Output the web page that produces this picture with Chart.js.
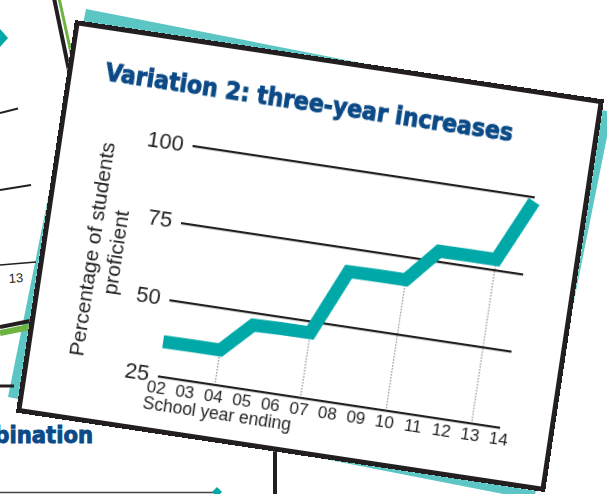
<!DOCTYPE html>
<html>
<head>
<meta charset="utf-8">
<script src="https://cdn.jsdelivr.net/npm/chart.js@4.4.1/dist/chart.umd.min.js"></script>
<style>
  html, body { margin: 0; padding: 0; background: #fff; }
  #stage { position: relative; width: 607px; height: 494px; overflow: hidden; background: #fff; }
  #deco { position: absolute; left: 0; top: 0; }
  #card {
    position: absolute; left: 75px; top: 20px; width: 535px; height: 397px;
    background: #fff; transform-origin: 0 0; transform: rotate(8.55deg);
  }
  #card .frame { position: absolute; inset: 0; border: 5px solid #231f20; box-sizing: border-box; }
  #card canvas { position: absolute; left: 0; top: 0; }
  #title {
    position: absolute; left: 38px; top: 34px; white-space: nowrap;
    font-family: 'DejaVu Sans Condensed', 'DejaVu Sans', sans-serif; font-weight: 700;
    font-size: 24px; line-height: 26px; color: #0b4a86; font-variant-ligatures: none;
    -webkit-text-stroke: 0.9px #0b4a86;
  }
  .sub { font-family: 'DejaVu Sans Condensed', 'DejaVu Sans', sans-serif; font-weight: 700; }
</style>
</head>
<body>
<div id="stage">
  <svg id="deco" width="607" height="494">
    <!-- teal backing sheet -->
    <polygon points="86,9 612,112 534,500 8,397" fill="#5cc6c5"/>
    <!-- neighbouring panel, left -->
    <line x1="59" y1="-2" x2="77" y2="80" stroke="#6cb33f" stroke-width="3"/>
    <line x1="54" y1="-2" x2="72" y2="85" stroke="#231f20" stroke-width="4"/>
    <polygon points="-8,38 0,29 8,38 0,47" fill="#00a9a7"/>
    <line x1="0" y1="113" x2="18" y2="108.5" stroke="#231f20" stroke-width="2"/>
    <line x1="0" y1="190" x2="31" y2="185" stroke="#231f20" stroke-width="2"/>
    <line x1="0" y1="265" x2="36" y2="262" stroke="#231f20" stroke-width="1.5"/>
    <text x="9" y="283" font-family="Liberation Sans" font-size="13" fill="#231f20" transform="rotate(-4 9 283)">13</text>
    <line x1="0" y1="333" x2="30" y2="327" stroke="#6cb33f" stroke-width="6"/>
    <line x1="0" y1="327" x2="30" y2="321" stroke="#231f20" stroke-width="4"/>
    <line x1="0" y1="386" x2="14" y2="386" stroke="#231f20" stroke-width="3"/>
    <text class="sub" x="93" y="443" text-anchor="end" font-size="23.5" fill="#0b4a86" stroke="#0b4a86" stroke-width="0.9">Combination</text>
    <!-- panel below -->
    <line x1="0" y1="492.5" x2="214" y2="492.5" stroke="#444" stroke-width="1.5"/>
    <polygon points="212,492 217,487 222,492 217,497" fill="#00a9a7"/>
    <line x1="275" y1="440" x2="275" y2="500" stroke="#231f20" stroke-width="4"/>
  </svg>

  <div id="card">
    <canvas id="chart" width="535" height="397"></canvas>
    <div id="title">Variation 2: three-year increases</div>
    <div class="frame"></div>
  </div>
</div>

<script>
// ── Data ──
const years = ['02', '03', '04', '05', '06', '07', '08', '09', '10', '11', '12', '13', '14']
const proficient = [36.4, 36.5, 36.5, 46.0, 46.2, 46.3, 67.6, 67.7, 67.7, 78.4, 78.5, 78.5, 98.8]
const yTicks = [25, 50, 75, 100]
const dropYears = ['04', '07', '10', '13']   // dotted guides under each dip

const INK = '#231f20'
const TEAL = '#00a9a7'
const FONT = 'Liberation Sans'

// Chart area inside the 535x397 card
const AREA = { left: 135, right: 481, top: 107.5, bottom: 340.4 }

// fit title to its measured width in the reference
const titleEl = document.getElementById('title')
titleEl.style.fontSize = (24 * 412 / titleEl.offsetWidth).toFixed(2) + 'px'

// ── Plugin: dotted drop lines + x axis caption ──
const dropLines = {
  id: 'dropLines',
  beforeDatasetsDraw(chart) {
    const { ctx, scales: { x, y } } = chart
    ctx.save()
    ctx.strokeStyle = '#333'
    ctx.lineWidth = 1
    ctx.setLineDash([1, 2])
    dropYears.forEach(yr => {
      const i = years.indexOf(yr)
      const px = x.getPixelForValue(i)
      ctx.beginPath()
      ctx.moveTo(px, y.getPixelForValue(yTicks[0]))
      ctx.lineTo(px, y.getPixelForValue(proficient[i]))
      ctx.stroke()
    })
    ctx.restore()
  },
  afterDraw(chart) {
    const { ctx, scales: { x } } = chart
    ctx.save()
    ctx.font = `17.5px "${FONT}"`
    ctx.fillStyle = INK
    ctx.textBaseline = 'middle'
    ctx.fillText('School year ending', x.left - 11, x.top + 29)
    ctx.restore()
  },
}

new Chart(document.getElementById('chart'), {
  type: 'line',
  data: {
    labels: years,
    datasets: [{
      data: proficient,
      borderColor: TEAL,
      borderWidth: 13,
      borderJoinStyle: 'miter',
      borderCapStyle: 'butt',
      pointRadius: 0,
      tension: 0,
      clip: false,
    }],
  },
  options: {
    responsive: false,
    animation: false,
    layout: { padding: { top: AREA.top, right: 535 - AREA.right, bottom: 0, left: 0 } },
    plugins: { legend: { display: false }, tooltip: { enabled: false } },
    scales: {
      x: {
        offset: false,
        grid: { display: false, drawTicks: false },
        border: { display: false },
        ticks: { color: INK, font: { family: FONT, size: 17 }, padding: 2, maxRotation: 0, autoSkip: false },
        afterFit: s => { s.height = 397 - AREA.bottom },
      },
      y: {
        min: yTicks[0],
        max: yTicks[yTicks.length - 1],
        afterBuildTicks: s => { s.ticks = yTicks.map(v => ({ value: v })) },
        grid: { color: INK, lineWidth: 2.2, drawTicks: false },
        border: { display: false },
        ticks: { color: INK, font: { family: FONT, size: 22 }, padding: 9 },
        title: {
          display: true,
          text: ['Percentage of students', 'proficient'],
          color: INK,
          font: { family: FONT, size: 21, lineHeight: 1.15 },
          padding: { top: 40, bottom: 0 },
        },
        afterFit: s => { s.width = AREA.left },
      },
    },
  },
  plugins: [dropLines],
})
</script>
</body>
</html>
